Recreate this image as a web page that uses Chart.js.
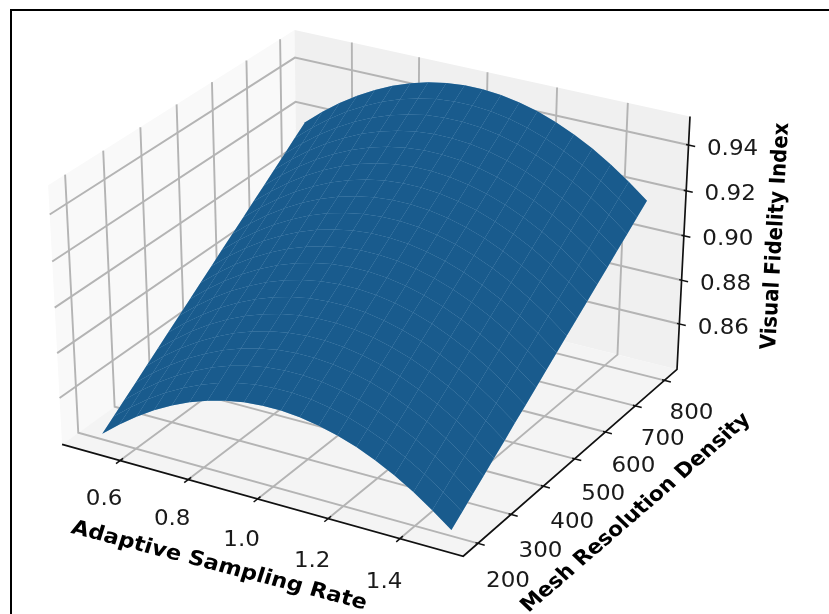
<!DOCTYPE html>
<html>
<head>
<meta charset="utf-8">
<script src="https://cdn.jsdelivr.net/npm/chart.js@4/dist/chart.umd.min.js"></script>
<style>
body{margin:0;background:#fff;overflow:hidden}
#wrap{position:relative;width:829px;height:614px;overflow:hidden}
#frame{position:absolute;left:10px;top:9px;width:900px;height:700px;border-left:2px solid #000;border-top:2px solid #000}
canvas{position:absolute;left:0;top:0;filter:blur(0.5px)}
</style>
</head>
<body>
<div id="wrap">
<div id="frame"></div>
<canvas id="myChart" width="829" height="614"></canvas>
</div>
<script>
// tick labels on the three axes
const xTicks=[0.6,0.8,1.0,1.2,1.4]
const yTicks=[200,300,400,500,600,700,800]
const zTicks=[0.86,0.88,0.90,0.92,0.94]

// pane limits of the box
const xLimits=[0.4271,1.5729]
const yLimits=[156.25,843.75]
const zLimits=[0.8389,0.9523]

const xTitle="Adaptive Sampling Rate"
const yTitle="Mesh Resolution Density"
const zTitle="Visual Fidelity Index"

// surface grid
const xValues=[0.5,0.553,0.605,0.658,0.711,0.763,0.816,0.868,0.921,0.974,1.026,1.079,1.132,1.184,1.237,1.289,1.342,1.395,1.447,1.5]
const yValues=[200,232,263,295,326,358,389,421,453,484,516,547,579,611,642,674,705,737,768,800]
const zValues=[
[0.8415,0.8480,0.8537,0.8588,0.8631,0.8667,0.8696,0.8717,0.8732,0.8739,0.8739,0.8732,0.8717,0.8696,0.8667,0.8631,0.8588,0.8537,0.8480,0.8415],
[0.8455,0.8520,0.8577,0.8628,0.8671,0.8707,0.8736,0.8757,0.8772,0.8779,0.8779,0.8772,0.8757,0.8736,0.8707,0.8671,0.8628,0.8577,0.8520,0.8455],
[0.8495,0.8560,0.8617,0.8668,0.8711,0.8747,0.8776,0.8797,0.8812,0.8819,0.8819,0.8812,0.8797,0.8776,0.8747,0.8711,0.8668,0.8617,0.8560,0.8495],
[0.8535,0.8600,0.8657,0.8708,0.8751,0.8787,0.8816,0.8837,0.8852,0.8859,0.8859,0.8852,0.8837,0.8816,0.8787,0.8751,0.8708,0.8657,0.8600,0.8535],
[0.8575,0.8640,0.8697,0.8748,0.8791,0.8827,0.8856,0.8877,0.8892,0.8899,0.8899,0.8892,0.8877,0.8856,0.8827,0.8791,0.8748,0.8697,0.8640,0.8575],
[0.8615,0.8680,0.8737,0.8788,0.8831,0.8867,0.8896,0.8917,0.8932,0.8939,0.8939,0.8932,0.8917,0.8896,0.8867,0.8831,0.8788,0.8737,0.8680,0.8615],
[0.8655,0.8720,0.8777,0.8828,0.8871,0.8907,0.8936,0.8957,0.8972,0.8979,0.8979,0.8972,0.8957,0.8936,0.8907,0.8871,0.8828,0.8777,0.8720,0.8655],
[0.8695,0.8760,0.8817,0.8868,0.8911,0.8947,0.8976,0.8997,0.9012,0.9019,0.9019,0.9012,0.8997,0.8976,0.8947,0.8911,0.8868,0.8817,0.8760,0.8695],
[0.8735,0.8800,0.8857,0.8908,0.8951,0.8987,0.9016,0.9037,0.9052,0.9059,0.9059,0.9052,0.9037,0.9016,0.8987,0.8951,0.8908,0.8857,0.8800,0.8735],
[0.8775,0.8840,0.8897,0.8948,0.8991,0.9027,0.9056,0.9077,0.9092,0.9099,0.9099,0.9092,0.9077,0.9056,0.9027,0.8991,0.8948,0.8897,0.8840,0.8775],
[0.8815,0.8880,0.8937,0.8988,0.9031,0.9067,0.9096,0.9117,0.9132,0.9139,0.9139,0.9132,0.9117,0.9096,0.9067,0.9031,0.8988,0.8937,0.8880,0.8815],
[0.8855,0.8920,0.8977,0.9028,0.9071,0.9107,0.9136,0.9157,0.9172,0.9179,0.9179,0.9172,0.9157,0.9136,0.9107,0.9071,0.9028,0.8977,0.8920,0.8855],
[0.8895,0.8960,0.9017,0.9068,0.9111,0.9147,0.9176,0.9197,0.9212,0.9219,0.9219,0.9212,0.9197,0.9176,0.9147,0.9111,0.9068,0.9017,0.8960,0.8895],
[0.8935,0.9000,0.9057,0.9108,0.9151,0.9187,0.9216,0.9237,0.9252,0.9259,0.9259,0.9252,0.9237,0.9216,0.9187,0.9151,0.9108,0.9057,0.9000,0.8935],
[0.8975,0.9040,0.9097,0.9148,0.9191,0.9227,0.9256,0.9277,0.9292,0.9299,0.9299,0.9292,0.9277,0.9256,0.9227,0.9191,0.9148,0.9097,0.9040,0.8975],
[0.9015,0.9080,0.9137,0.9188,0.9231,0.9267,0.9296,0.9317,0.9332,0.9339,0.9339,0.9332,0.9317,0.9296,0.9267,0.9231,0.9188,0.9137,0.9080,0.9015],
[0.9055,0.9120,0.9177,0.9228,0.9271,0.9307,0.9336,0.9357,0.9372,0.9379,0.9379,0.9372,0.9357,0.9336,0.9307,0.9271,0.9228,0.9177,0.9120,0.9055],
[0.9095,0.9160,0.9217,0.9268,0.9311,0.9347,0.9376,0.9397,0.9412,0.9419,0.9419,0.9412,0.9397,0.9376,0.9347,0.9311,0.9268,0.9217,0.9160,0.9095],
[0.9135,0.9200,0.9257,0.9308,0.9351,0.9387,0.9416,0.9437,0.9452,0.9459,0.9459,0.9452,0.9437,0.9416,0.9387,0.9351,0.9308,0.9257,0.9200,0.9135],
[0.9175,0.9240,0.9297,0.9348,0.9391,0.9427,0.9456,0.9477,0.9492,0.9499,0.9499,0.9492,0.9477,0.9456,0.9427,0.9391,0.9348,0.9297,0.9240,0.9175]
]

const [xMin,xMax]=xLimits
const [yMin,yMax]=yLimits
const [zMin,zMax]=zLimits

// same camera as a default mplot3d view (elev 30, azim -60)
function project(x,y,z){
  const sx=2*(x-xMin)/(xMax-xMin)-1
  const sy=2*(y-yMin)/(yMax-yMin)-1
  const sz=2*(z-zMin)/(zMax-zMin)-1
  const xe=0.4949*sx+0.2857*sy
  const ye=-0.1429*sx+0.2474*sy+0.3712*sz
  const d=10-0.2474*sx+0.4286*sy-0.2143*sz
  return {x:xe/d,y:ye/d}
}

function polygon(points,color){
  const closed=points.concat([points[0]])
  return {data:closed.map(p=>project(p[0],p[1],p[2])),showLine:true,fill:'shape',backgroundColor:color,
    borderWidth:0,pointRadius:0,pointHoverRadius:0,tension:0}
}

function line(points,color,width){
  return {data:points.map(p=>project(p[0],p[1],p[2])),showLine:true,fill:false,borderColor:color,
    borderWidth:width,pointRadius:0,pointHoverRadius:0,tension:0,borderCapStyle:'butt'}
}

const gridColor='#b4b4b4'
const axisColor='#111111'
const surfaceColor='#195b8d'
const seamColor='#8fb6d4'

let layers=[]

// panes
layers.push(polygon([[xMin,yMin,zMin],[xMin,yMax,zMin],[xMin,yMax,zMax],[xMin,yMin,zMax]],'#f9f9f9'))
layers.push(polygon([[xMin,yMax,zMin],[xMax,yMax,zMin],[xMax,yMax,zMax],[xMin,yMax,zMax]],'#f0f0f0'))
layers.push(polygon([[xMin,yMin,zMin],[xMax,yMin,zMin],[xMax,yMax,zMin],[xMin,yMax,zMin]],'#f4f4f4'))

// grid lines
xTicks.forEach((t)=>{
  layers.push(line([[t,yMin,zMin],[t,yMax,zMin],[t,yMax,zMax]],gridColor,1.9))
})
yTicks.forEach((t)=>{
  layers.push(line([[xMax,t,zMin],[xMin,t,zMin],[xMin,t,zMax]],gridColor,1.9))
})
zTicks.forEach((t)=>{
  layers.push(line([[xMin,yMin,t],[xMin,yMax,t],[xMax,yMax,t]],gridColor,1.9))
})

// axis lines and tick marks
layers.push(line([[xMin,yMin,zMin],[xMax,yMin,zMin],[xMax,yMax,zMin],[xMax,yMax,zMax]],axisColor,1.7))
const xSpan=xMax-xMin
const ySpan=yMax-yMin
xTicks.forEach((t)=>{
  layers.push(line([[t,yMin-0.016*ySpan,zMin],[t,yMin+0.012*ySpan,zMin]],axisColor,1.5))
})
yTicks.forEach((t)=>{
  layers.push(line([[xMax-0.006*xSpan,t,zMin],[xMax+0.016*xSpan,t,zMin]],axisColor,1.5))
})
zTicks.forEach((t)=>{
  layers.push(line([[xMax-0.006*xSpan,yMax,t],[xMax+0.016*xSpan,yMax,t]],axisColor,1.5))
})

// outline under the cells, it is what shows through the seams
let outline=[]
xValues.forEach((x,i)=>outline.push([x,yValues[0],zValues[0][i]]))
yValues.forEach((y,j)=>outline.push([xValues[19],y,zValues[j][19]]))
for(let i=19;i>=0;i--) outline.push([xValues[i],yValues[19],zValues[19][i]])
for(let j=19;j>=0;j--) outline.push([xValues[0],yValues[j],zValues[j][0]])
layers.push(polygon(outline,seamColor))

// surface cells, far ones first
for(let j=yValues.length-2;j>=0;j--){
  for(let i=0;i<xValues.length-1;i++){
    layers.push(polygon([
      [xValues[i],yValues[j],zValues[j][i]],
      [xValues[i+1],yValues[j],zValues[j][i+1]],
      [xValues[i+1],yValues[j+1],zValues[j+1][i+1]],
      [xValues[i],yValues[j+1],zValues[j+1][i]]
    ],surfaceColor))
  }
}

// chart.js paints dataset 0 last
layers.reverse()

const textPlugin={
  id:'axisText',
  afterDraw(chart){
    const ctx=chart.ctx
    const sx=chart.scales.x
    const sy=chart.scales.y
    const put=(text,px,py,font,angle,stretch,color)=>{
      ctx.save()
      ctx.translate(px,py)
      ctx.scale(stretch,1)
      ctx.rotate(angle*Math.PI/180)
      ctx.font=font
      ctx.fillStyle=color
      ctx.textAlign='center'
      ctx.textBaseline='middle'
      ctx.fillText(text,0,0)
      ctx.restore()
    }
    const tickFont='21.5px "DejaVu Sans"'
    xTicks.forEach((t)=>{
      const p=project(t,yMin,zMin)
      const drop=39+(t-0.6)*6
      put(t.toFixed(1),sx.getPixelForValue(p.x)-16,sy.getPixelForValue(p.y)+drop,tickFont,0,1.07,'#1a1a1a')
    })
    yTicks.forEach((t)=>{
      const p=project(xMax,t,zMin)
      const shift=(800-t)/600
      put(String(t),sx.getPixelForValue(p.x)+27+shift*3,sy.getPixelForValue(p.y)+33+shift*5,tickFont,0,1.07,'#1a1a1a')
    })
    zTicks.forEach((t)=>{
      const p=project(xMax,yMax,t)
      put(t.toFixed(2),sx.getPixelForValue(p.x)+44,sy.getPixelForValue(p.y)+4,tickFont,0,1.07,'#1a1a1a')
    })
    put(xTitle,219,566,'bold 20.5px "DejaVu Sans"',16,1.1,'#000')
    put(yTitle,636,513,'bold 20px "DejaVu Sans"',-43.5,1.1,'#000')
    put(zTitle,776,236,'bold 19.8px "DejaVu Sans"',-87,1.1,'#000')
  }
}

new Chart(document.getElementById('myChart'),{
  type:'scatter',
  data:{datasets:layers},
  options:{
    responsive:false,
    animation:false,
    layout:{padding:0},
    events:[],
    plugins:{legend:{display:false},tooltip:{enabled:false}},
    scales:{
      x:{type:'linear',display:false,min:-375/4022,max:454/4022},
      y:{type:'linear',display:false,min:-333/3447,max:281/3447}
    }
  },
  plugins:[textPlugin]
})
</script>
</body>
</html>
